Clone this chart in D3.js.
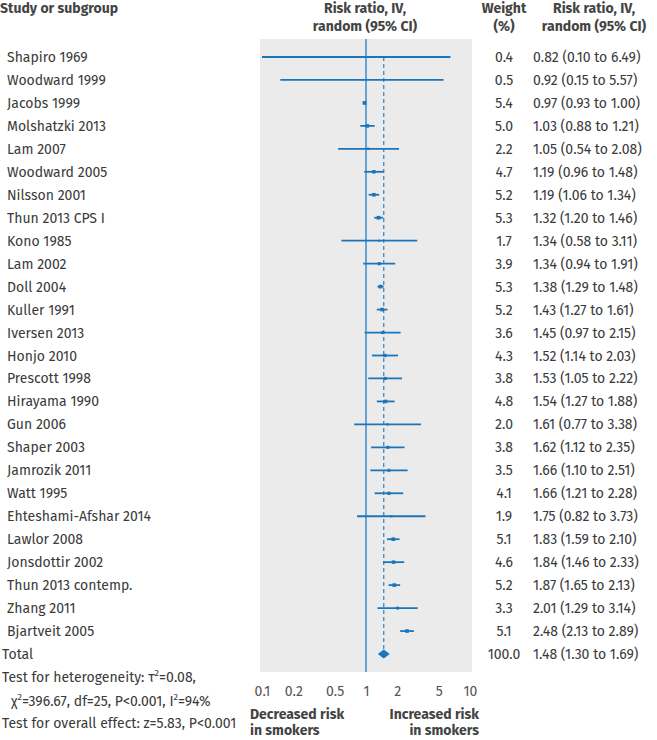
<!DOCTYPE html>
<html>
<head>
<meta charset="utf-8">
<script src="https://cdn.jsdelivr.net/npm/d3@7"></script>
<style>
  body { margin: 0; background: #fff; }
  text { font-family: "Fira Sans", "Noto Sans", sans-serif; }
</style>
</head>
<body>
<script>
// forest plot: risk ratio of smoking, random effects

var width = 657;
var height = 740;

var studies = ["Shapiro 1969", "Woodward 1999", "Jacobs 1999", "Molshatzki 2013", "Lam 2007",
  "Woodward 2005", "Nilsson 2001", "Thun 2013 CPS I", "Kono 1985", "Lam 2002", "Doll 2004",
  "Kuller 1991", "Iversen 2013", "Honjo 2010", "Prescott 1998", "Hirayama 1990", "Gun 2006",
  "Shaper 2003", "Jamrozik 2011", "Watt 1995", "Ehteshami-Afshar 2014", "Lawlor 2008",
  "Jonsdottir 2002", "Thun 2013 contemp.", "Zhang 2011", "Bjartveit 2005"];
var weights = [0.4, 0.5, 5.4, 5.0, 2.2, 4.7, 5.2, 5.3, 1.7, 3.9, 5.3, 5.2, 3.6, 4.3, 3.8, 4.8,
  2.0, 3.8, 3.5, 4.1, 1.9, 5.1, 4.6, 5.2, 3.3, 5.1];
var rr = [0.82, 0.92, 0.97, 1.03, 1.05, 1.19, 1.19, 1.32, 1.34, 1.34, 1.38, 1.43, 1.45, 1.52,
  1.53, 1.54, 1.61, 1.62, 1.66, 1.66, 1.75, 1.83, 1.84, 1.87, 2.01, 2.48];
var lower = [0.10, 0.15, 0.93, 0.88, 0.54, 0.96, 1.06, 1.20, 0.58, 0.94, 1.29, 1.27, 0.97, 1.14,
  1.05, 1.27, 0.77, 1.12, 1.10, 1.21, 0.82, 1.59, 1.46, 1.65, 1.29, 2.13];
var upper = [6.49, 5.57, 1.00, 1.21, 2.08, 1.48, 1.34, 1.46, 3.11, 1.91, 1.48, 1.61, 2.15, 2.03,
  2.22, 1.88, 3.38, 2.35, 2.51, 2.28, 3.73, 2.10, 2.33, 2.13, 3.14, 2.89];
var total = { weight: 100.0, rr: 1.48, lower: 1.30, upper: 1.69 };
var ticks = [0.1, 0.2, 0.5, 1, 2, 5, 10];

var blue = "#1b75bb";
var textCol = "#3a3a3a";
var fs = 14;
var off = 5; // baseline offset from row centre

var rows = studies.map(function(name, i){
  return { name: name, w: weights[i], rr: rr[i], lo: lower[i], hi: upper[i], idx: i };
});

var xScale = d3.scaleLog()
               .domain([0.1, 10])
               .range([262, 470]);

var yScale = d3.scaleLinear()
               .domain([0, studies.length])
               .range([57, 654]);

var svg = d3.select("body")
            .append("svg")
            .attr("width", width)
            .attr("height", height);

// grey panel
svg.append("rect")
   .attr("x", 260)
   .attr("y", 39)
   .attr("width", 212)
   .attr("height", 633)
   .attr("fill", "#ebebeb");

// headers
var head = svg.append("g")
              .attr("font-weight", "bold")
              .attr("font-size", fs + "px")
              .attr("fill", "#444");
head.append("text").attr("x", 0).attr("y", 13).text("Study or subgroup");
head.append("text").attr("x", 365).attr("y", 13).attr("text-anchor", "middle").text("Risk ratio, IV,");
head.append("text").attr("x", 365).attr("y", 31).attr("text-anchor", "middle").text("random (95% CI)");
head.append("text").attr("x", 504).attr("y", 13).attr("text-anchor", "middle").text("Weight");
head.append("text").attr("x", 504).attr("y", 31).attr("text-anchor", "middle").text("(%)");
head.append("text").attr("x", 594).attr("y", 13).attr("text-anchor", "middle").text("Risk ratio, IV,");
head.append("text").attr("x", 594).attr("y", 31).attr("text-anchor", "middle").text("random (95% CI)");

// line of no effect
svg.append("line")
   .attr("x1", xScale(1)).attr("x2", xScale(1))
   .attr("y1", 39).attr("y2", 672)
   .attr("stroke", "#4592d3")
   .attr("stroke-width", 1.6);

// pooled estimate dashed line
svg.append("line")
   .attr("x1", xScale(total.rr)).attr("x2", xScale(total.rr))
   .attr("y1", yScale(0)).attr("y2", yScale(studies.length))
   .attr("stroke", "#4592d3")
   .attr("stroke-width", 1.4)
   .attr("stroke-dasharray", "4,3");

// confidence intervals
svg.selectAll("line.ci")
   .data(rows)
   .enter()
   .append("line")
   .attr("class", "ci")
   .attr("x1", function(d){ return xScale(d.lo); })
   .attr("x2", function(d){ return xScale(d.hi); })
   .attr("y1", function(d){ return yScale(d.idx); })
   .attr("y2", function(d){ return yScale(d.idx); })
   .attr("stroke", blue)
   .attr("stroke-width", 1.8);

// weight squares
var half = function(d){ return Math.sqrt(d.w) * 0.8; };
svg.selectAll("rect.pt")
   .data(rows)
   .enter()
   .append("rect")
   .attr("class", "pt")
   .attr("x", function(d){ return xScale(d.rr) - half(d); })
   .attr("y", function(d){ return yScale(d.idx) - half(d); })
   .attr("width", function(d){ return half(d) * 2; })
   .attr("height", function(d){ return half(d) * 2; })
   .attr("fill", blue);

// total diamond
var ty = yScale(studies.length);
svg.append("path")
   .attr("d", "M" + xScale(total.lower) + "," + ty +
              "L" + xScale(total.rr) + "," + (ty - 4.5) +
              "L" + xScale(total.upper) + "," + ty +
              "L" + xScale(total.rr) + "," + (ty + 4.5) + "Z")
   .attr("fill", blue);

// row texts
var fmt = d3.format(".2f");
var body = svg.append("g")
              .attr("font-size", fs + "px")
              .attr("fill", textCol);

body.selectAll("text.name")
    .data(rows)
    .enter()
    .append("text")
    .attr("x", 7)
    .attr("y", function(d){ return yScale(d.idx) + off; })
    .text(function(d){ return d.name; });

body.selectAll("text.w")
    .data(rows)
    .enter()
    .append("text")
    .attr("x", 504)
    .attr("y", function(d){ return yScale(d.idx) + off; })
    .attr("text-anchor", "middle")
    .text(function(d){ return d3.format(".1f")(d.w); });

body.selectAll("text.ci")
    .data(rows)
    .enter()
    .append("text")
    .attr("x", 533)
    .attr("y", function(d){ return yScale(d.idx) + off; })
    .text(function(d){ return fmt(d.rr) + " (" + fmt(d.lo) + " to " + fmt(d.hi) + ")"; });

body.append("text").attr("x", 2).attr("y", ty + off).text("Total");
body.append("text").attr("x", 504).attr("y", ty + off).attr("text-anchor", "middle")
    .text(d3.format(".1f")(total.weight));
body.append("text").attr("x", 533).attr("y", ty + off)
    .text(fmt(total.rr) + " (" + fmt(total.lower) + " to " + fmt(total.upper) + ")");

// test statistics
var t1 = body.append("text").attr("x", 2).attr("y", 682);
t1.append("tspan").text("Test for heterogeneity: \u03c4");
t1.append("tspan").attr("font-size", "9px").attr("dy", -6).text("2");
t1.append("tspan").attr("dy", 6).text("=0.08,");

var t2 = body.append("text").attr("x", 11).attr("y", 706);
t2.append("tspan").text("\u03c7");
t2.append("tspan").attr("font-size", "9px").attr("dy", -6).text("2");
t2.append("tspan").attr("dy", 6).text("=396.67, df=25, P<0.001, I");
t2.append("tspan").attr("font-size", "9px").attr("dy", -6).text("2");
t2.append("tspan").attr("dy", 6).text("=94%");

body.append("text").attr("x", 2).attr("y", 728).text("Test for overall effect: z=5.83, P<0.001");

// axis
var xAxis = d3.axisBottom(xScale)
              .tickValues(ticks)
              .tickFormat(d3.format("~g"))
              .tickSize(0)
              .tickPadding(14);

var axisG = svg.append("g")
   .attr("transform", "translate(0,672)")
   .call(xAxis);
axisG.select(".domain").remove();
axisG.selectAll("text")
     .attr("font-size", fs + "px")
     .attr("font-family", "\"Fira Sans\", \"Noto Sans\", sans-serif")
     .attr("fill", "#555");

// direction labels
var dir = svg.append("g")
             .attr("font-weight", "bold")
             .attr("font-size", fs + "px")
             .attr("fill", "#444");
dir.append("text").attr("x", 250).attr("y", 719).text("Decreased risk");
dir.append("text").attr("x", 250).attr("y", 735).text("in smokers");
dir.append("text").attr("x", 479).attr("y", 719).attr("text-anchor", "end").text("Increased risk");
dir.append("text").attr("x", 479).attr("y", 735).attr("text-anchor", "end").text("in smokers");
</script>
</body>
</html>
